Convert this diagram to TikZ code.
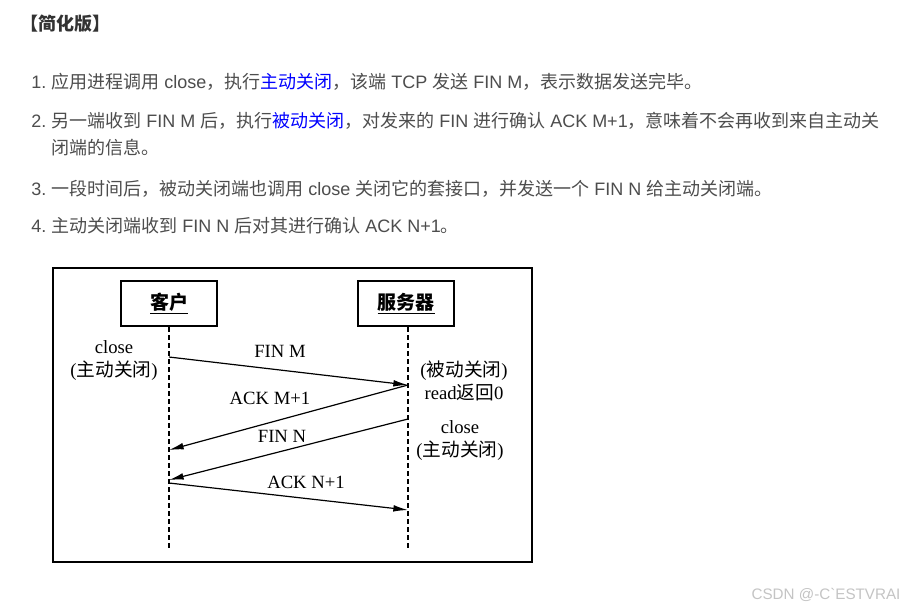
\documentclass[tikz,border=0pt]{standalone}
\usepackage{fontspec}
\setmainfont{Liberation Sans}
\newfontfamily\cjk{Noto Sans CJK SC}
\newfontfamily\serif{Liberation Serif}
\newfontfamily\markfont{Liberation Sans}
\usetikzlibrary{arrows.meta,positioning}
\definecolor{bodytext}{HTML}{4D4D4D}
\definecolor{headtext}{HTML}{333333}
\definecolor{linkblue}{HTML}{0000FF}
\definecolor{marktext}{HTML}{C4C4C4}
\newcommand{\zh}[1]{{\cjk #1}}
\newcommand{\zhlink}[1]{{\color{linkblue}\cjk #1}}

\begin{document}
\begin{tikzpicture}[
    x=0.75pt, y=-0.75pt,
    line/.style={anchor=base west, inner sep=0pt, text=bodytext, font=\fontsize{13.5}{16}\selectfont},
    head/.style={anchor=base west, inner sep=0pt, text=headtext, font=\fontsize{13.5}{16}\selectfont\cjk\bfseries},
    actor/.style={rectangle, draw, line width=1.5pt, minimum width=72pt, minimum height=34pt, font=\fontsize{14.25}{16}\selectfont\cjk\bfseries},
    note/.style={inner sep=0pt, align=center, font=\fontsize{14}{17.25}\selectfont\serif},
    life/.style={line width=1pt, dash pattern=on 3.5pt off 2.5pt},
    msg/.style={-{Latex[length=11pt,width=5pt]}, line width=0.9pt}
]
\fill[white] (0,0) rectangle (906,610);
\useasboundingbox (0,0) rectangle (906,610);

% Heading and list
\node[head] (title) at (20,31) {【简化版】};
\node[line] (n1) at (31,89) {1.};
\node[line] (t1) at (51,89) {\zh{应用进程调用} close\zh{，执行}\zhlink{主动关闭}\zh{，该端} TCP \zh{发送} FIN M\zh{，表示数据发送完毕。}};
\node[line] (n2) at (31,127) {2.};
\node[line] (t2) at (51,127) {\zh{另一端收到} FIN M \zh{后，执行}\zhlink{被动关闭}\zh{，对发来的} FIN \zh{进行确认} ACK M+1\zh{，意味着不会再收到来自主动关}};
\node[line] (t2b) at (51,154) {\zh{闭端的信息。}};
\node[line] (n3) at (31,195) {3.};
\node[line] (t3) at (51,195) {\zh{一段时间后，被动关闭端也调用} close \zh{关闭它的套接口，并发送一个} FIN N \zh{给主动关闭端。}};
\node[line] (n4) at (31,232) {4.};
\node[line] (t4) at (51,232) {\zh{主动关闭端收到} FIN N \zh{后对其进行确认} ACK N+1\zh{。}};

% Frame
\draw[line width=1.5pt] (53,268) rectangle (532,562);

% Hosts
\node[actor] (client) at (169,303.5) {\underline{客户}};
\node[actor] (server) at (406,303.5) {\underline{服务器}};

% Lifelines
\coordinate (cbot) at (169,550);
\coordinate (sbot) at (408,550);
\draw[life] (client.south) -- (cbot);
\draw[life] (server.south -| sbot) -- (sbot);

% Message points
\coordinate (c1) at (169,357);
\coordinate (s1) at (408,385);
\coordinate (c2) at (169,450);
\coordinate (s2) at (408,419);
\coordinate (c3) at (169,480);
\coordinate (c4) at (169,483);
\coordinate (s3) at (408,510);

% Messages
\draw[msg] (c1) -- (s1);
\draw[msg] (s1) -- (c2);
\draw[msg] (s2) -- (c3);
\draw[msg] (c4) -- (s3);

\node[note] (finm) at (280,351) {FIN M};
\node[note] (ackm) at (270,398) {ACK M+1};
\node[note] (finn) at (282,436) {FIN N};
\node[note] (ackn) at (306,482) {ACK N+1};

% Side notes
\node[note] (cclose) at (114,360.5) {close\\({\cjk 主动关闭})};
\node[note] (spassive) at (464,380.5) {({\cjk 被动关闭})\\read{\cjk 返回}0};
\node[note] (sclose) at (460,440.5) {close\\({\cjk 主动关闭})};

% Watermark
\node[inner sep=0pt, text=marktext, font=\fontsize{11.4}{13}\selectfont\markfont] (mark) at (826,595) {CSDN @-C`ESTVRAI};
\end{tikzpicture}
\end{document}
